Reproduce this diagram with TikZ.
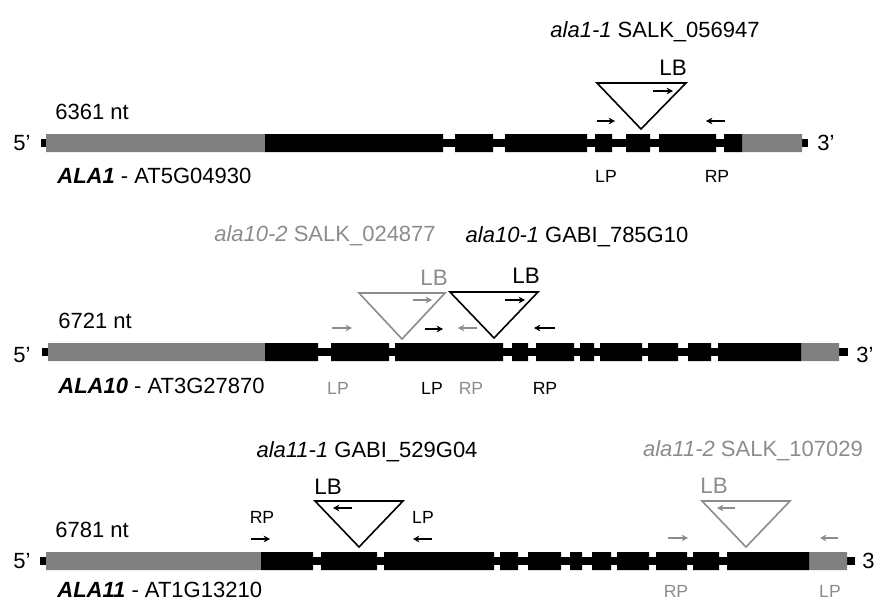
\documentclass[tikz,border=0pt]{standalone}
\usepackage{fontspec}
\setmainfont{Liberation Sans}
\usetikzlibrary{arrows.meta}
\definecolor{utrgray}{gray}{0.5}
\definecolor{mutgray}{gray}{0.55}

\begin{document}
\begin{tikzpicture}[x=0.5pt, y=-0.5pt,
    >={Stealth[length=3.2pt,width=3.4pt]},
    primer/.style={->, line width=0.7pt},
    tdna/.style={line width=0.8pt, line join=miter},
    txt/.style={font=\fontsize{11}{13}\selectfont, inner sep=0pt, anchor=base},
    big/.style={font=\fontsize{11.2}{13}\selectfont, inner sep=0pt, anchor=base},
    small/.style={font=\fontsize{8.8}{10}\selectfont, inner sep=0pt, anchor=base}]
    \useasboundingbox (0,0) rectangle (878,601);

    % ALA1
    \fill (41,139) rectangle (808,147);
    \fill[utrgray] (46,134) rectangle (265,152) (742,134) rectangle (802,152);
    \fill (265,134) rectangle (443,152) (455,134) rectangle (493,152)
          (505,134) rectangle (587,152) (595,134) rectangle (612,152)
          (626,134) rectangle (650,152) (659,134) rectangle (716,152)
          (724,134) rectangle (742,152);
    \node[txt] (five1) at (22,150) {5'};
    \node[txt] (three1) at (826,150) {3'};
    \node[txt, anchor=base west] (len1) at (55,119) {6361 nt};
    \node[txt, anchor=base west] (gene1) at (57,183) {\textbf{\textit{ALA1}} - AT5G04930};

    % Insercion ala1-1
    \node[txt] (mut1) at (655,37) {\textit{ala1-1} SALK\_056947};
    \draw[tdna] (597,83) -- (686,83) -- (641,129) -- cycle;
    \node[big] (lb1) at (673,75) {LB};
    \draw[primer] (653,91) -- (673,91);
    \draw[primer] (597,121) -- (615,121);
    \draw[primer] (725,121) -- (706,121);
    \node[small] (lp1) at (606,182) {LP};
    \node[small] (rp1) at (717,182) {RP};

    % ALA10
    \fill (42,348) rectangle (848,356);
    \fill[utrgray] (48,343) rectangle (265,361) (801,343) rectangle (839,361);
    \fill (265,343) rectangle (318,361) (331,343) rectangle (389,361)
          (395,343) rectangle (503,361) (512,343) rectangle (528,361)
          (536,343) rectangle (574,361) (580,343) rectangle (594,361)
          (600,343) rectangle (642,361) (648,343) rectangle (678,361)
          (688,343) rectangle (711,361) (718,343) rectangle (801,361);
    \node[txt] (five2) at (22,362) {5'};
    \node[txt] (three2) at (865,362) {3'};
    \node[txt, anchor=base west] (len2) at (58,328) {6721 nt};
    \node[txt, anchor=base west] (gene2) at (58,393) {\textbf{\textit{ALA10}} - AT3G27870};

    % Insercion ala10-2 (gris)
    \node[txt, mutgray] (mut2a) at (325,241) {\textit{ala10-2} SALK\_024877};
    \draw[tdna, mutgray] (359,293) -- (445,293) -- (402,339) -- cycle;
    \node[big, mutgray] (lb2a) at (434,285) {LB};
    \draw[primer, mutgray] (413,300) -- (432,300);
    \draw[primer, mutgray] (332,328) -- (352,328);
    \draw[primer, mutgray] (477,328) -- (458,328);
    \node[small, mutgray] (lp2a) at (338,394) {LP};
    \node[small, mutgray] (rp2a) at (471,394) {RP};

    % Insercion ala10-1
    \node[txt] (mut2b) at (577,242) {\textit{ala10-1} GABI\_785G10};
    \draw[tdna] (450,292) -- (538,292) -- (494,338) -- cycle;
    \node[big] (lb2b) at (526,283) {LB};
    \draw[primer] (505,300) -- (525,300);
    \draw[primer] (425,329) -- (443,329);
    \draw[primer] (555,328) -- (534,328);
    \node[small] (lp2b) at (432,394) {LP};
    \node[small] (rp2b) at (545,394) {RP};

    % ALA11
    \fill (40,557) rectangle (855,565);
    \fill[utrgray] (46,552) rectangle (261,570) (809,552) rectangle (847,570);
    \fill (261,552) rectangle (313,570) (321,552) rectangle (377,570)
          (384,552) rectangle (494,570) (500,552) rectangle (518,570)
          (528,552) rectangle (561,570) (570,552) rectangle (582,570)
          (592,552) rectangle (611,570) (617,552) rectangle (649,570)
          (656,552) rectangle (687,570) (693,552) rectangle (719,570)
          (727,552) rectangle (809,570);
    \node[txt] (five3) at (22,568) {5'};
    \node[txt, anchor=base west] (three3) at (862,568) {3};
    \node[txt, anchor=base west] (len3) at (55,537) {6781 nt};
    \node[txt, anchor=base west] (gene3) at (57,597) {\textbf{\textit{ALA11}} - AT1G13210};

    % Insercion ala11-1
    \node[txt] (mut3a) at (367,457) {\textit{ala11-1} GABI\_529G04};
    \draw[tdna] (315,501) -- (403,501) -- (359,547) -- cycle;
    \node[big] (lb3a) at (328,494) {LB};
    \draw[primer] (352,508) -- (333,508);
    \draw[primer] (251,539) -- (270,539);
    \draw[primer] (432,539) -- (413,539);
    \node[small] (rp3a) at (262,523) {RP};
    \node[small] (lp3a) at (423,523) {LP};

    % Insercion ala11-2 (gris)
    \node[txt, mutgray] (mut3b) at (753,456) {\textit{ala11-2} SALK\_107029};
    \draw[tdna, mutgray] (702,501) -- (790,501) -- (746,547) -- cycle;
    \node[big, mutgray] (lb3b) at (714,493) {LB};
    \draw[primer, mutgray] (735,508) -- (717,508);
    \draw[primer, mutgray] (668,538) -- (688,538);
    \draw[primer, mutgray] (838,538) -- (820,538);
    \node[small, mutgray] (rp3b) at (676,597) {RP};
    \node[small, mutgray] (lp3b) at (830,597) {LP};
\end{tikzpicture}
\end{document}
